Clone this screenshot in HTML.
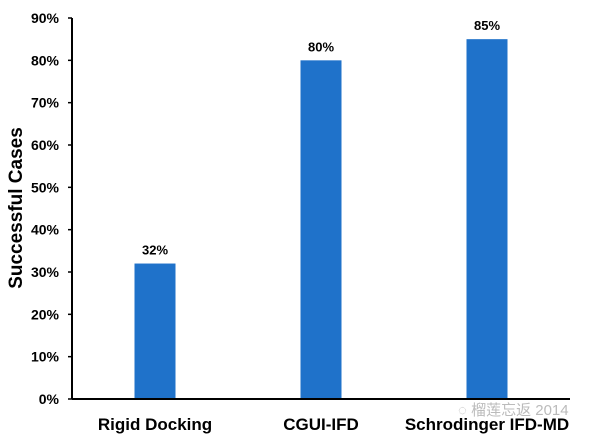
<!DOCTYPE html>
<html><head><meta charset="utf-8"><style>
body{margin:0;background:#fff;}
svg{display:block;font-family:"Liberation Sans","Noto Sans CJK SC",sans-serif;}
</style></head><body>
<svg id="chart" width="600" height="442"></svg>
<script>
const categories=["Rigid Docking","CGUI-IFD","Schrodinger IFD-MD"];
const values=[32,80,85];
const valueLabels=["32%","80%","85%"];
const ticks=[0,10,20,30,40,50,60,70,80,90];
const ns="http://www.w3.org/2000/svg";
const svg=document.getElementById('chart');
const x0=72,x1=570,yTop=18,yBot=399;
const y=v=>yBot-(v/90)*(yBot-yTop);
const band=166,firstC=155,bw=41;
const xc=i=>firstC+i*band;
function mk(t,a,parent){const e=document.createElementNS(ns,t);for(const k in a)e.setAttribute(k,a[k]);(parent||svg).appendChild(e);return e;}
ticks.forEach(t=>{
 const l=mk('line',{x1:x0-4,x2:x0,y1:y(t),y2:y(t),stroke:'#000','stroke-width':1.5});
 
 
 const tx=mk('text',{x:x0-13,y:y(t)+5,'text-anchor':'end','font-size':14,'font-weight':'bold'});
 tx.textContent=t+'%';
 
 
});
values.forEach((v,i)=>{
 const r=mk('rect',{x:xc(i)-bw/2,y:y(v),width:bw,height:yBot-y(v),fill:'#1f72ca'});
 
 
 const t=mk('text',{x:xc(i),y:y(v)-9,'text-anchor':'middle','font-size':13,'font-weight':'bold'});
 t.textContent=valueLabels[i];
 
 
 const c=mk('text',{x:xc(i),y:430,'text-anchor':'middle','font-size':17,'font-weight':'bold'});
 c.textContent=categories[i];
 
 
});
const ya=mk('line',{x1:x0,x2:x0,y1:yTop,y2:yBot,stroke:'#000','stroke-width':2});


const xa=mk('line',{x1:x0,x2:x1,y1:yBot,y2:yBot,stroke:'#000','stroke-width':2});


const yt=mk('text',{x:22,y:208,'text-anchor':'middle','font-size':19,'font-weight':'bold',transform:'rotate(-90 22 208)'});
yt.textContent='Successful Cases';


const wm=mk('text',{x:458,y:415,'font-size':15,fill:'#aaa','fill-opacity':0.8});
wm.textContent='◌ 榴莲忘返 2014';


</script>
</body></html>
